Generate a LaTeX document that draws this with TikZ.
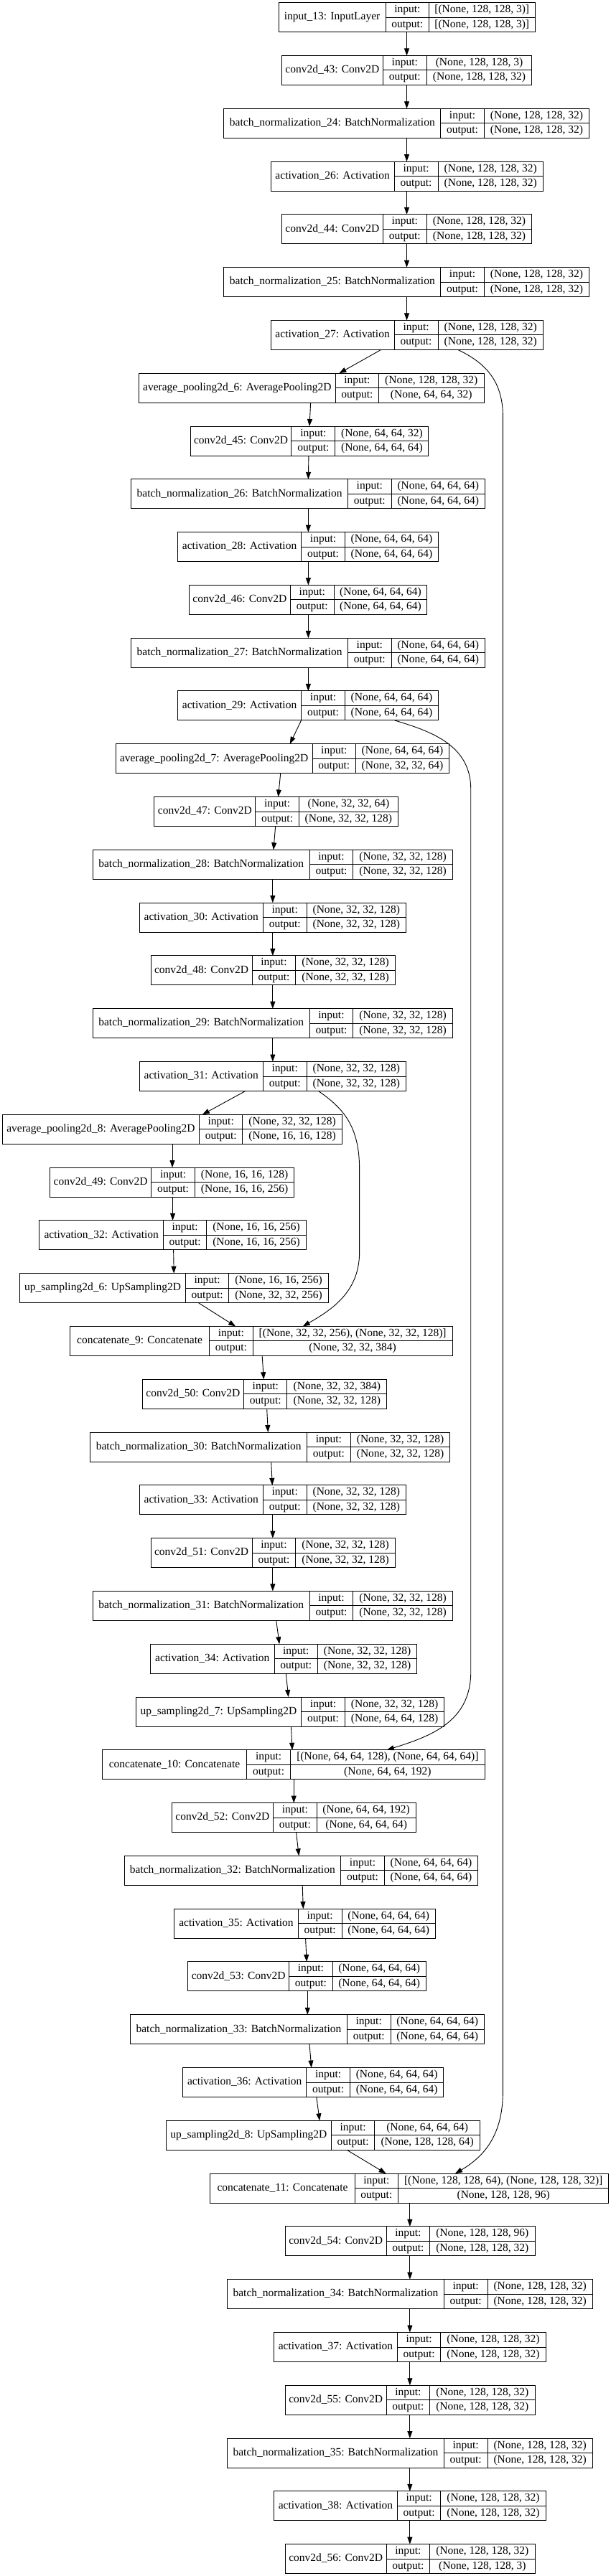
\documentclass[tikz,border=0pt]{standalone}
\usepackage{fontspec}
\setmainfont{Liberation Serif}
\usetikzlibrary{fit,arrows.meta}
\tikzset{
  box/.style={draw=black, line width=1pt, inner sep=0pt, outer sep=0pt},
  cell/.style={draw=black, line width=1pt},
  txt/.style={inner sep=0pt, text height=11pt, text depth=3.5pt, font=\fontsize{15.5}{18}\selectfont},
  arr/.style={line width=0.9pt, -{Triangle[length=10pt,width=7pt]}},
}
% #1 id, #2 row, #3 left, #4 div1, #5 div2, #6 right, #7 name, #8 input shape, #9 output shape
\newcommand{\lyr}[9]{%
  \pgfmathsetmacro{\yT}{-(3.7+73.79*#2)}%
  \pgfmathsetmacro{\yB}{\yT-41}%
  \pgfmathsetmacro{\yM}{\yT-20.5}%
  \pgfmathsetmacro{\yU}{\yT-10.25}%
  \pgfmathsetmacro{\yD}{\yT-30.75}%
  \pgfmathsetmacro{\xN}{(#3+#4)/2}%
  \pgfmathsetmacro{\xL}{(#4+#5)/2}%
  \pgfmathsetmacro{\xV}{(#5+#6)/2}%
  \node[box, fit={(#3,\yT) (#6,\yB)}] (#1) {};%
  \draw[cell] (#4,\yT) -- (#4,\yB) (#4,\yM) -- (#6,\yM) (#5,\yT) -- (#5,\yB);%
  \node[txt] (#1-n) at (\xN,\yM) {#7};%
  \node[txt] (#1-i) at (\xL,\yU) {input:};%
  \node[txt] (#1-o) at (\xL,\yD) {output:};%
  \node[txt] (#1-iv) at (\xV,\yU) {#8};%
  \node[txt] (#1-ov) at (\xV,\yD) {#9};%
}
\newcommand{\edg}[4]{%
  \path (#3,0) coordinate (ea) (#4,0) coordinate (eb);%
  \draw[arr] (#1.south -| ea) -- (#2.north -| eb);%
}
\begin{document}
\begin{tikzpicture}[x=0.5442pt, y=1pt]
\useasboundingbox (0,0) rectangle (1562,-3590);
\lyr{in13}{0}{713}{987}{1098}{1369}{input\_13: InputLayer}{[(None, 128, 128, 3)]}{[(None, 128, 128, 3)]}
\lyr{c43}{1}{721}{980}{1092}{1361}{conv2d\_43: Conv2D}{(None, 128, 128, 3)}{(None, 128, 128, 32)}
\lyr{bn24}{2}{573}{1128}{1239}{1508}{batch\_normalization\_24: BatchNormalization}{(None, 128, 128, 32)}{(None, 128, 128, 32)}
\lyr{a26}{3}{693}{1009}{1121}{1390}{activation\_26: Activation}{(None, 128, 128, 32)}{(None, 128, 128, 32)}
\lyr{c44}{4}{721}{980}{1092}{1361}{conv2d\_44: Conv2D}{(None, 128, 128, 32)}{(None, 128, 128, 32)}
\lyr{bn25}{5}{573}{1128}{1239}{1508}{batch\_normalization\_25: BatchNormalization}{(None, 128, 128, 32)}{(None, 128, 128, 32)}
\lyr{a27}{6}{693}{1009}{1121}{1390}{activation\_27: Activation}{(None, 128, 128, 32)}{(None, 128, 128, 32)}
\lyr{ap6}{7}{355}{859}{969}{1239}{average\_pooling2d\_6: AveragePooling2D}{(None, 128, 128, 32)}{(None, 64, 64, 32)}
\lyr{c45}{8}{487}{746}{858}{1097}{conv2d\_45: Conv2D}{(None, 64, 64, 32)}{(None, 64, 64, 64)}
\lyr{bn26}{9}{336}{890}{1002}{1241}{batch\_normalization\_26: BatchNormalization}{(None, 64, 64, 64)}{(None, 64, 64, 64)}
\lyr{a28}{10}{455}{771}{883}{1122}{activation\_28: Activation}{(None, 64, 64, 64)}{(None, 64, 64, 64)}
\lyr{c46}{11}{484}{743}{855}{1093}{conv2d\_46: Conv2D}{(None, 64, 64, 64)}{(None, 64, 64, 64)}
\lyr{bn27}{12}{336}{890}{1002}{1241}{batch\_normalization\_27: BatchNormalization}{(None, 64, 64, 64)}{(None, 64, 64, 64)}
\lyr{a29}{13}{455}{771}{883}{1122}{activation\_29: Activation}{(None, 64, 64, 64)}{(None, 64, 64, 64)}
\lyr{ap7}{14}{296}{800}{910}{1150}{average\_pooling2d\_7: AveragePooling2D}{(None, 64, 64, 64)}{(None, 32, 32, 64)}
\lyr{c47}{15}{395}{654}{765}{1019}{conv2d\_47: Conv2D}{(None, 32, 32, 64)}{(None, 32, 32, 128)}
\lyr{bn28}{16}{238}{792}{904}{1158}{batch\_normalization\_28: BatchNormalization}{(None, 32, 32, 128)}{(None, 32, 32, 128)}
\lyr{a30}{17}{357}{673}{785}{1039}{activation\_30: Activation}{(None, 32, 32, 128)}{(None, 32, 32, 128)}
\lyr{c48}{18}{386}{645}{757}{1011}{conv2d\_48: Conv2D}{(None, 32, 32, 128)}{(None, 32, 32, 128)}
\lyr{bn29}{19}{238}{792}{904}{1158}{batch\_normalization\_29: BatchNormalization}{(None, 32, 32, 128)}{(None, 32, 32, 128)}
\lyr{a31}{20}{357}{673}{785}{1039}{activation\_31: Activation}{(None, 32, 32, 128)}{(None, 32, 32, 128)}
\lyr{ap8}{21}{6}{510}{621}{875}{average\_pooling2d\_8: AveragePooling2D}{(None, 32, 32, 128)}{(None, 16, 16, 128)}
\lyr{c49}{22}{128}{387}{499}{753}{conv2d\_49: Conv2D}{(None, 16, 16, 128)}{(None, 16, 16, 256)}
\lyr{a32}{23}{101}{418}{529}{783}{activation\_32: Activation}{(None, 16, 16, 256)}{(None, 16, 16, 256)}
\lyr{up6}{24}{51}{475}{586}{840}{up\_sampling2d\_6: UpSampling2D}{(None, 16, 16, 256)}{(None, 32, 32, 256)}
\lyr{cc9}{25}{179}{536}{647}{1158}{concatenate\_9: Concatenate}{[(None, 32, 32, 256), (None, 32, 32, 128)]}{(None, 32, 32, 384)}
\lyr{c50}{26}{364}{624}{735}{990}{conv2d\_50: Conv2D}{(None, 32, 32, 384)}{(None, 32, 32, 128)}
\lyr{bn30}{27}{231}{786}{897}{1152}{batch\_normalization\_30: BatchNormalization}{(None, 32, 32, 128)}{(None, 32, 32, 128)}
\lyr{a33}{28}{357}{673}{785}{1039}{activation\_33: Activation}{(None, 32, 32, 128)}{(None, 32, 32, 128)}
\lyr{c51}{29}{386}{645}{757}{1011}{conv2d\_51: Conv2D}{(None, 32, 32, 128)}{(None, 32, 32, 128)}
\lyr{bn31}{30}{238}{792}{904}{1158}{batch\_normalization\_31: BatchNormalization}{(None, 32, 32, 128)}{(None, 32, 32, 128)}
\lyr{a34}{31}{385}{702}{813}{1067}{activation\_34: Activation}{(None, 32, 32, 128)}{(None, 32, 32, 128)}
\lyr{up7}{32}{348}{771}{883}{1137}{up\_sampling2d\_7: UpSampling2D}{(None, 32, 32, 128)}{(None, 64, 64, 128)}
\lyr{cc10}{33}{261}{632}{743}{1241}{concatenate\_10: Concatenate}{[(None, 64, 64, 128), (None, 64, 64, 64)]}{(None, 64, 64, 192)}
\lyr{c52}{34}{440}{699}{811}{1064}{conv2d\_52: Conv2D}{(None, 64, 64, 192)}{(None, 64, 64, 64)}
\lyr{bn32}{35}{318}{872}{984}{1223}{batch\_normalization\_32: BatchNormalization}{(None, 64, 64, 64)}{(None, 64, 64, 64)}
\lyr{a35}{36}{446}{763}{875}{1114}{activation\_35: Activation}{(None, 64, 64, 64)}{(None, 64, 64, 64)}
\lyr{c53}{37}{481}{740}{851}{1090}{conv2d\_53: Conv2D}{(None, 64, 64, 64)}{(None, 64, 64, 64)}
\lyr{bn33}{38}{334}{888}{1000}{1239}{batch\_normalization\_33: BatchNormalization}{(None, 64, 64, 64)}{(None, 64, 64, 64)}
\lyr{a36}{39}{468}{784}{896}{1135}{activation\_36: Activation}{(None, 64, 64, 64)}{(None, 64, 64, 64)}
\lyr{up8}{40}{425}{848}{959}{1228}{up\_sampling2d\_8: UpSampling2D}{(None, 64, 64, 64)}{(None, 128, 128, 64)}
\lyr{cc11}{41}{538}{908}{1019}{1558}{concatenate\_11: Concatenate}{[(None, 128, 128, 64), (None, 128, 128, 32)]}{(None, 128, 128, 96)}
\lyr{c54}{42}{730}{989}{1100}{1369}{conv2d\_54: Conv2D}{(None, 128, 128, 96)}{(None, 128, 128, 32)}
\lyr{bn34}{43}{582}{1136}{1248}{1516}{batch\_normalization\_34: BatchNormalization}{(None, 128, 128, 32)}{(None, 128, 128, 32)}
\lyr{a37}{44}{701}{1017}{1128}{1397}{activation\_37: Activation}{(None, 128, 128, 32)}{(None, 128, 128, 32)}
\lyr{c55}{45}{730}{989}{1100}{1369}{conv2d\_55: Conv2D}{(None, 128, 128, 32)}{(None, 128, 128, 32)}
\lyr{bn35}{46}{582}{1136}{1248}{1516}{batch\_normalization\_35: BatchNormalization}{(None, 128, 128, 32)}{(None, 128, 128, 32)}
\lyr{a38}{47}{701}{1017}{1128}{1397}{activation\_38: Activation}{(None, 128, 128, 32)}{(None, 128, 128, 32)}
\lyr{c56}{48}{730}{989}{1100}{1369}{conv2d\_56: Conv2D}{(None, 128, 128, 32)}{(None, 128, 128, 3)}
% straight edges
\edg{in13}{c43}{1041}{1041}
\edg{c43}{bn24}{1041}{1041}
\edg{bn24}{a26}{1041}{1041}
\edg{a26}{c44}{1041}{1041}
\edg{c44}{bn25}{1041}{1041}
\edg{bn25}{a27}{1041}{1041}
\edg{a27}{ap6}{975}{868}
\edg{ap6}{c45}{795}{792}
\edg{c45}{bn26}{790}{789}
\edg{bn26}{a28}{789}{789}
\edg{a28}{c46}{789}{789}
\edg{c46}{bn27}{789}{789}
\edg{bn27}{a29}{789}{789}
\edg{a29}{ap7}{771}{742}
\edg{ap7}{c47}{718}{712}
\edg{c47}{bn28}{705}{700}
\edg{bn28}{a30}{698}{698}
\edg{a30}{c48}{698}{698}
\edg{c48}{bn29}{698}{698}
\edg{bn29}{a31}{698}{698}
\edg{a31}{ap8}{628}{518}
\edg{ap8}{c49}{441}{441}
\edg{c49}{a32}{442}{442}
\edg{a32}{up6}{444}{445}
\edg{up6}{cc9}{508}{603}
\edg{cc9}{c50}{671}{675}
\edg{c50}{bn30}{683}{686}
\edg{bn30}{a33}{694}{697}
\edg{a33}{c51}{698}{698}
\edg{c51}{bn31}{698}{698}
\edg{bn31}{a34}{707}{715}
\edg{a34}{up7}{732}{738}
\edg{up7}{cc10}{745}{748}
\edg{cc10}{c52}{752}{752}
\edg{c52}{bn32}{758}{765}
\edg{bn32}{a35}{774}{776}
\edg{a35}{c53}{782}{785}
\edg{c53}{bn33}{787}{787}
\edg{bn33}{a36}{792}{797}
\edg{a36}{up8}{810}{818}
\edg{up8}{cc11}{888}{988}
\edg{cc11}{c54}{1049}{1049}
\edg{c54}{bn34}{1049}{1049}
\edg{bn34}{a37}{1049}{1049}
\edg{a37}{c55}{1049}{1049}
\edg{c55}{bn35}{1049}{1049}
\edg{bn35}{a38}{1049}{1049}
\edg{a38}{c56}{1049}{1049}
% skip connections
\path (1172,0) coordinate (s1a) (1165,0) coordinate (s1b)
      (1010,0) coordinate (s2a) (990,0) coordinate (s2b)
      (815,0) coordinate (s3a) (775,0) coordinate (s3b);
\draw[arr] (a27.south -| s1a) .. controls (1240,-505) and (1287,-530) .. (1287,-580)
  -- (1287,-2915) .. controls (1287,-2975) and (1240,-3005) .. (cc11.north -| s1b);
\draw[arr] (a29.south -| s2a) .. controls (1110,-1020) and (1205,-1040) .. (1205,-1100)
  -- (1205,-2330) .. controls (1205,-2400) and (1100,-2420) .. (cc10.north -| s2b);
\draw[arr] (a31.south -| s3a) .. controls (880,-1545) and (920,-1570) .. (920,-1630)
  -- (920,-1745) .. controls (920,-1800) and (850,-1825) .. (cc9.north -| s3b);
\end{tikzpicture}
\end{document}
